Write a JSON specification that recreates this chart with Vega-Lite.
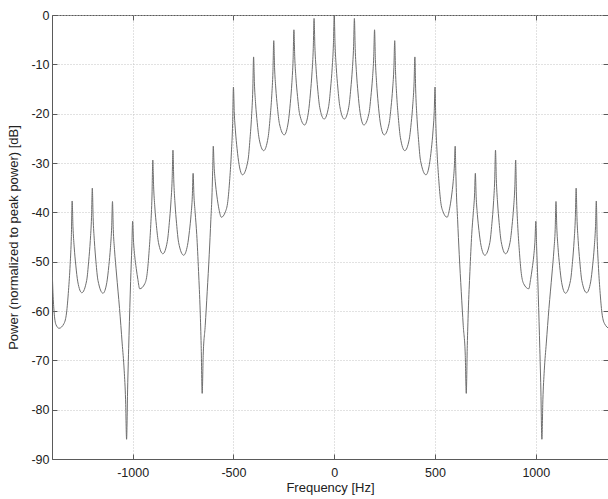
{
  "$schema": "https://vega.github.io/schema/vega-lite/v6.json",
  "width": 556,
  "height": 444,
  "autosize": {"type": "none"},
  "padding": {"left": 52, "top": 15, "right": 0, "bottom": 40},
  "background": "white",
  "config": {
    "view": {"stroke": "#5a5a5a", "strokeWidth": 1},
    "axis": {
      "labelFont": "Liberation Sans",
      "titleFont": "Liberation Sans",
      "labelFontSize": 12.5,
      "titleFontSize": 13,
      "labelColor": "#222222",
      "titleColor": "#222222",
      "titleFontWeight": "normal",
      "domainColor": "#5a5a5a",
      "tickColor": "#5a5a5a",
      "gridColor": "#c4c4c4",
      "gridDash": [1, 2],
      "gridWidth": 1
    }
  },
  "data": {
    "values": [
      {"f": -1400, "p": -50}, {"f": -1396, "p": -55.5}, {"f": -1390, "p": -60}, {"f": -1380, "p": -62.8}, {"f": -1365, "p": -63.5},
      {"f": -1340, "p": -62.5}, {"f": -1328, "p": -60.4}, {"f": -1318, "p": -55.8}, {"f": -1310, "p": -50.6}, {"f": -1304, "p": -44.9},
      {"f": -1300, "p": -37.7}, {"f": -1296, "p": -42.9}, {"f": -1290, "p": -47.0}, {"f": -1282, "p": -50.7}, {"f": -1272, "p": -54.1},
      {"f": -1252, "p": -56.3}, {"f": -1228, "p": -53.8}, {"f": -1218, "p": -49.9}, {"f": -1210, "p": -45.7}, {"f": -1204, "p": -41.0},
      {"f": -1200, "p": -35.1}, {"f": -1196, "p": -41.1}, {"f": -1190, "p": -45.7}, {"f": -1182, "p": -50.0}, {"f": -1172, "p": -53.8},
      {"f": -1147, "p": -56.4}, {"f": -1128, "p": -54.2}, {"f": -1118, "p": -50.8}, {"f": -1110, "p": -47.1}, {"f": -1104, "p": -43.0},
      {"f": -1100, "p": -37.8}, {"f": -1096, "p": -43.5}, {"f": -1090, "p": -47.5}, {"f": -1080, "p": -52.5}, {"f": -1065, "p": -59.5},
      {"f": -1052, "p": -66.5}, {"f": -1042, "p": -72}, {"f": -1035, "p": -78}, {"f": -1030, "p": -86}, {"f": -1025, "p": -76},
      {"f": -1018, "p": -65}, {"f": -1010, "p": -54}, {"f": -1004, "p": -47}, {"f": -1000, "p": -41.8}, {"f": -996, "p": -45.6},
      {"f": -990, "p": -48.7}, {"f": -982, "p": -51.4}, {"f": -974, "p": -53.6}, {"f": -965, "p": -55.5}, {"f": -940, "p": -54.5},
      {"f": -928, "p": -52.4}, {"f": -918, "p": -47.7}, {"f": -910, "p": -42.5}, {"f": -904, "p": -36.7}, {"f": -900, "p": -29.4},
      {"f": -896, "p": -34.7}, {"f": -890, "p": -38.9}, {"f": -882, "p": -42.7}, {"f": -872, "p": -46.1}, {"f": -850, "p": -48.4},
      {"f": -828, "p": -45.9}, {"f": -818, "p": -42.1}, {"f": -810, "p": -37.9}, {"f": -804, "p": -33.3}, {"f": -800, "p": -27.4},
      {"f": -796, "p": -33.4}, {"f": -790, "p": -38.1}, {"f": -782, "p": -42.3}, {"f": -772, "p": -46.1}, {"f": -747, "p": -48.7},
      {"f": -728, "p": -46.7}, {"f": -718, "p": -43.7}, {"f": -710, "p": -40.4}, {"f": -704, "p": -36.8}, {"f": -700, "p": -32.1},
      {"f": -696, "p": -36.5}, {"f": -690, "p": -40}, {"f": -682, "p": -44.5}, {"f": -673, "p": -52}, {"f": -665, "p": -60},
      {"f": -660, "p": -67}, {"f": -655, "p": -76.7}, {"f": -650, "p": -69}, {"f": -640, "p": -63}, {"f": -630, "p": -56},
      {"f": -620, "p": -48.5}, {"f": -612, "p": -41.5}, {"f": -606, "p": -36}, {"f": -603, "p": -31.5}, {"f": -600, "p": -26.6},
      {"f": -596, "p": -30.6}, {"f": -590, "p": -33.8}, {"f": -582, "p": -36.7}, {"f": -572, "p": -39.3}, {"f": -560, "p": -41},
      {"f": -540, "p": -39.9}, {"f": -528, "p": -37.8}, {"f": -518, "p": -33.1}, {"f": -510, "p": -27.8}, {"f": -504, "p": -22.0},
      {"f": -500, "p": -14.6}, {"f": -496, "p": -19.6}, {"f": -490, "p": -23.5}, {"f": -482, "p": -27.1}, {"f": -472, "p": -30.3},
      {"f": -455, "p": -32.4}, {"f": -428, "p": -29.5}, {"f": -418, "p": -25.2}, {"f": -410, "p": -20.5}, {"f": -404, "p": -15.2},
      {"f": -400, "p": -8.5}, {"f": -396, "p": -13.8}, {"f": -390, "p": -18.0}, {"f": -382, "p": -21.8}, {"f": -372, "p": -25.2},
      {"f": -350, "p": -27.5}, {"f": -328, "p": -24.8}, {"f": -318, "p": -20.8}, {"f": -310, "p": -16.4}, {"f": -304, "p": -11.4},
      {"f": -300, "p": -5.2}, {"f": -296, "p": -10.6}, {"f": -290, "p": -14.8}, {"f": -282, "p": -18.6}, {"f": -272, "p": -22.0},
      {"f": -248, "p": -24.3}, {"f": -228, "p": -21.7}, {"f": -218, "p": -17.9}, {"f": -210, "p": -13.7}, {"f": -204, "p": -9.0},
      {"f": -200, "p": -3.0}, {"f": -196, "p": -8.4}, {"f": -190, "p": -12.7}, {"f": -182, "p": -16.5}, {"f": -172, "p": -20.0},
      {"f": -147, "p": -22.3}, {"f": -128, "p": -19.7}, {"f": -118, "p": -15.8}, {"f": -110, "p": -11.5}, {"f": -104, "p": -6.8},
      {"f": -100, "p": -0.7}, {"f": -96, "p": -6.4}, {"f": -90, "p": -10.9}, {"f": -82, "p": -15.0}, {"f": -72, "p": -18.7},
      {"f": -50, "p": -21.1}, {"f": -28, "p": -18.6}, {"f": -18, "p": -14.8}, {"f": -10, "p": -10.6}, {"f": -4, "p": -5.9},
      {"f": 0, "p": 0},
      {"f": 4, "p": -5.9}, {"f": 10, "p": -10.6}, {"f": 18, "p": -14.8}, {"f": 28, "p": -18.6}, {"f": 50, "p": -21.1},
      {"f": 72, "p": -18.7}, {"f": 82, "p": -15.0}, {"f": 90, "p": -10.9}, {"f": 96, "p": -6.4}, {"f": 100, "p": -0.7},
      {"f": 104, "p": -6.8}, {"f": 110, "p": -11.5}, {"f": 118, "p": -15.8}, {"f": 128, "p": -19.7}, {"f": 147, "p": -22.3},
      {"f": 172, "p": -20.0}, {"f": 182, "p": -16.5}, {"f": 190, "p": -12.7}, {"f": 196, "p": -8.4}, {"f": 200, "p": -3.0},
      {"f": 204, "p": -9.0}, {"f": 210, "p": -13.7}, {"f": 218, "p": -17.9}, {"f": 228, "p": -21.7}, {"f": 248, "p": -24.3},
      {"f": 272, "p": -22.0}, {"f": 282, "p": -18.6}, {"f": 290, "p": -14.8}, {"f": 296, "p": -10.6}, {"f": 300, "p": -5.2},
      {"f": 304, "p": -11.4}, {"f": 310, "p": -16.4}, {"f": 318, "p": -20.8}, {"f": 328, "p": -24.8}, {"f": 350, "p": -27.5},
      {"f": 372, "p": -25.2}, {"f": 382, "p": -21.8}, {"f": 390, "p": -18.0}, {"f": 396, "p": -13.8}, {"f": 400, "p": -8.5},
      {"f": 404, "p": -15.2}, {"f": 410, "p": -20.5}, {"f": 418, "p": -25.2}, {"f": 428, "p": -29.5}, {"f": 455, "p": -32.4},
      {"f": 472, "p": -30.3}, {"f": 482, "p": -27.1}, {"f": 490, "p": -23.5}, {"f": 496, "p": -19.6}, {"f": 500, "p": -14.6},
      {"f": 504, "p": -22.0}, {"f": 510, "p": -27.8}, {"f": 518, "p": -33.1}, {"f": 528, "p": -37.8}, {"f": 540, "p": -39.9},
      {"f": 560, "p": -41}, {"f": 572, "p": -39.3}, {"f": 582, "p": -36.7}, {"f": 590, "p": -33.8}, {"f": 596, "p": -30.6},
      {"f": 600, "p": -26.6}, {"f": 603, "p": -31.5}, {"f": 606, "p": -36}, {"f": 612, "p": -41.5}, {"f": 620, "p": -48.5},
      {"f": 630, "p": -56}, {"f": 640, "p": -63}, {"f": 650, "p": -69}, {"f": 655, "p": -76.7}, {"f": 660, "p": -67},
      {"f": 665, "p": -60}, {"f": 673, "p": -52}, {"f": 682, "p": -44.5}, {"f": 690, "p": -40}, {"f": 696, "p": -36.5},
      {"f": 700, "p": -32.1}, {"f": 704, "p": -36.8}, {"f": 710, "p": -40.4}, {"f": 718, "p": -43.7}, {"f": 728, "p": -46.7},
      {"f": 747, "p": -48.7}, {"f": 772, "p": -46.1}, {"f": 782, "p": -42.3}, {"f": 790, "p": -38.1}, {"f": 796, "p": -33.4},
      {"f": 800, "p": -27.4}, {"f": 804, "p": -33.3}, {"f": 810, "p": -37.9}, {"f": 818, "p": -42.1}, {"f": 828, "p": -45.9},
      {"f": 850, "p": -48.4}, {"f": 872, "p": -46.1}, {"f": 882, "p": -42.7}, {"f": 890, "p": -38.9}, {"f": 896, "p": -34.7},
      {"f": 900, "p": -29.4}, {"f": 904, "p": -36.7}, {"f": 910, "p": -42.5}, {"f": 918, "p": -47.7}, {"f": 928, "p": -52.4},
      {"f": 940, "p": -54.5}, {"f": 965, "p": -55.5}, {"f": 974, "p": -53.6}, {"f": 982, "p": -51.4}, {"f": 990, "p": -48.7},
      {"f": 996, "p": -45.6}, {"f": 1000, "p": -41.8}, {"f": 1004, "p": -47}, {"f": 1010, "p": -54}, {"f": 1018, "p": -65},
      {"f": 1025, "p": -76}, {"f": 1030, "p": -86}, {"f": 1035, "p": -78}, {"f": 1042, "p": -72}, {"f": 1052, "p": -66.5},
      {"f": 1065, "p": -59.5}, {"f": 1080, "p": -52.5}, {"f": 1090, "p": -47.5}, {"f": 1096, "p": -43.5}, {"f": 1100, "p": -37.8},
      {"f": 1104, "p": -43.0}, {"f": 1110, "p": -47.1}, {"f": 1118, "p": -50.8}, {"f": 1128, "p": -54.2}, {"f": 1147, "p": -56.4},
      {"f": 1172, "p": -53.8}, {"f": 1182, "p": -50.0}, {"f": 1190, "p": -45.7}, {"f": 1196, "p": -41.1}, {"f": 1200, "p": -35.1},
      {"f": 1204, "p": -41.0}, {"f": 1210, "p": -45.7}, {"f": 1218, "p": -49.9}, {"f": 1228, "p": -53.8}, {"f": 1252, "p": -56.3},
      {"f": 1272, "p": -54.1}, {"f": 1282, "p": -50.7}, {"f": 1290, "p": -47.0}, {"f": 1296, "p": -42.9}, {"f": 1300, "p": -37.7},
      {"f": 1304, "p": -44.9}, {"f": 1310, "p": -50.6}, {"f": 1318, "p": -55.8}, {"f": 1328, "p": -60.4}, {"f": 1340, "p": -62.5},
      {"f": 1365, "p": -63.5}, {"f": 1380, "p": -62.8}, {"f": 1390, "p": -60}, {"f": 1396, "p": -55.5}, {"f": 1400, "p": -50}
    ]
  },
  "layer": [
    {
      "mark": {"type": "line", "color": "#6e6e6e", "strokeWidth": 1, "interpolate": "monotone", "clip": true},
      "encoding": {
        "x": {
          "field": "f", "type": "quantitative",
          "scale": {"domain": [-1400, 1358], "nice": false, "zero": false},
          "axis": {
            "orient": "bottom", "title": "Frequency [Hz]",
            "values": [-1000, -500, 0, 500, 1000],
            "labelExpr": "toString(datum.value)",
            "grid": true, "tickSize": -5, "labelPadding": 12,
            "titleY": 28, "titleBaseline": "middle"
          }
        },
        "y": {
          "field": "p", "type": "quantitative",
          "scale": {"domain": [-90, 0], "nice": false, "zero": false},
          "axis": {
            "orient": "left", "title": "Power (normalized to peak power) [dB]",
            "values": [-90, -80, -70, -60, -50, -40, -30, -20, -10, 0],
            "labelExpr": "toString(datum.value)",
            "grid": true, "tickSize": -5, "labelPadding": 8,
            "titleX": -39, "titleY": 222, "titleBaseline": "middle", "titleAngle": -90
          }
        }
      }
    },
    {
      "mark": {"type": "point", "opacity": 0},
      "encoding": {
        "x": {
          "field": "f", "type": "quantitative",
          "axis": {"orient": "top", "title": null, "labels": false, "grid": false, "domain": false, "values": [-1000, -500, 0, 500, 1000], "tickSize": -5}
        },
        "y": {
          "field": "p", "type": "quantitative",
          "axis": {"orient": "right", "title": null, "labels": false, "grid": false, "domain": false, "values": [-90, -80, -70, -60, -50, -40, -30, -20, -10, 0], "tickSize": -5}
        }
      }
    }
  ]
}
